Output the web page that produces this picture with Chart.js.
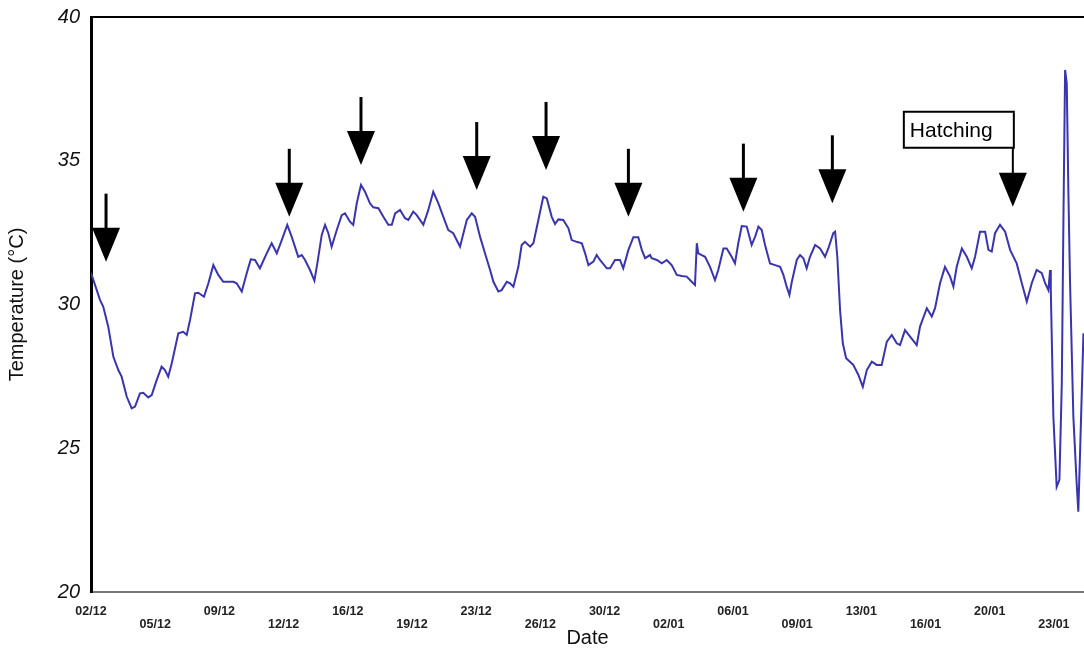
<!DOCTYPE html>
<html>
<head>
<meta charset="UTF-8">
<title>Temperature</title>
<script src="https://cdn.jsdelivr.net/npm/chart.js"></script>
<style>
  body { margin: 0; background: #fff; }
  #wrap { width: 1084px; height: 653px; position: relative; }
</style>
</head>
<body>
<div id="wrap"><canvas id="myChart"></canvas></div>
<script>
// days since 02/12 and temperature (°C)
var days = [
  0,0.49,0.67,0.94,1.22,1.49,1.67,1.95,2.22,2.40,2.67,2.85,3.12,3.31,3.58,3.85,4.03,4.21,4.40,4.76,
  5.03,5.22,5.40,5.67,5.85,6.16,6.40,6.67,6.94,7.21,7.76,7.94,8.22,8.49,8.71,8.94,9.21,9.58,9.85,10.13,
  10.40,10.70,10.94,11.30,11.49,11.67,11.94,12.18,12.34,12.58,12.76,12.94,13.12,13.40,13.67,13.85,14.12,14.30,14.49,14.72,
  14.94,15.21,15.39,15.67,15.94,16.21,16.40,16.58,16.85,17.12,17.30,17.57,17.76,18.12,18.39,18.66,18.94,19.21,19.48,19.75,
  20.12,20.49,20.76,20.94,21.21,21.48,21.76,21.94,22.21,22.39,22.67,22.85,23.03,23.30,23.48,23.66,23.94,24.12,24.39,24.66,
  24.85,25.12,25.30,25.48,25.75,26.03,26.21,26.48,26.76,26.94,27.12,27.39,27.57,27.75,28.12,28.30,28.57,28.84,29.02,29.30,
  29.57,29.84,30.03,30.21,30.48,30.57,30.85,31.12,31.39,31.66,31.94,32.21,32.48,32.75,32.93,33.03,33.11,33.30,33.48,33.75,
  34.02,34.20,34.48,34.66,34.93,35.11,35.29,35.48,35.75,36.02,36.21,36.39,36.57,36.75,37.02,37.30,37.57,37.75,37.93,38.08,
  38.21,38.48,38.66,38.84,39.02,39.20,39.48,39.75,40.02,40.20,40.47,40.57,40.69,40.84,40.99,41.17,41.48,
  41.56,41.84,42.08,42.30,42.57,42.84,43.11,43.39,43.66,43.93,44.11,44.38,44.66,45.02,45.20,45.57,45.84,46.02,46.29,46.56,
  46.84,47.02,47.20,47.48,47.75,48.02,48.20,48.47,48.75,48.93,49.11,49.29,49.56,49.84,50.11,50.47,50.75,51.02,51.29,51.56,
  51.84,52.02,52.20,52.29,52.33,52.47,52.65,52.80,52.93,53.02,53.11,53.20,53.29,53.38,53.56,53.74,53.83,53.93,54.11
];
var temps = [
  31.10,30.16,29.92,29.23,28.18,27.72,27.49,26.79,26.39,26.45,26.91,26.93,26.77,26.85,27.37,27.84,27.72,27.49,27.95,29.00,
  29.05,28.94,29.46,30.39,30.41,30.27,30.74,31.37,31.03,30.79,30.79,30.74,30.45,31.09,31.57,31.55,31.26,31.78,32.13,31.78,
  32.24,32.77,32.36,31.66,31.72,31.55,31.20,30.83,31.43,32.42,32.77,32.48,32.01,32.59,33.11,33.17,32.88,32.77,33.52,34.16,
  33.92,33.52,33.38,33.35,33.05,32.77,32.77,33.17,33.29,33.00,32.94,33.23,33.11,32.77,33.29,33.92,33.52,33.05,32.59,32.48,
  32.01,32.94,33.17,33.05,32.36,31.78,31.20,30.79,30.45,30.50,30.79,30.74,30.62,31.31,32.07,32.18,32.01,32.13,32.94,33.75,
  33.69,33.05,32.80,32.96,32.94,32.65,32.24,32.18,32.13,31.78,31.37,31.49,31.72,31.55,31.26,31.26,31.55,31.55,31.26,31.90,
  32.34,32.34,31.90,31.61,31.72,31.61,31.55,31.43,31.55,31.37,31.03,30.99,30.97,30.79,30.68,32.13,31.78,31.72,31.66,31.31,
  30.85,31.20,31.95,31.95,31.66,31.43,32.13,32.73,32.71,32.07,32.36,32.71,32.59,32.07,31.43,31.37,31.31,31.03,30.62,30.33,
  30.79,31.55,31.72,31.61,31.26,31.66,32.07,31.95,31.66,31.95,32.48,32.53,31.66,29.81,28.65,28.13,27.95,
  27.90,27.55,27.14,27.72,28.01,27.90,27.90,28.71,28.94,28.65,28.59,29.11,28.88,28.59,29.23,29.87,29.58,29.87,30.74,31.31,
  30.97,30.62,31.31,31.95,31.66,31.26,31.66,32.53,32.53,31.90,31.84,32.48,32.77,32.53,31.90,31.43,30.74,30.10,30.74,31.20,
  31.09,30.74,30.50,31.20,30.50,26.10,23.66,23.90,27.26,33.05,38.16,37.69,33.87,30.74,26.10,23.78,22.79,24.94,29.00
];

// x axis ticks (every 3.5 days) and their labels
var tickDays = [0,3.5,7,10.5,14,17.5,21,24.5,28,31.5,35,38.5,42,45.5,49,52.5];
var tickLabels = ['02/12','05/12','09/12','12/12','16/12','19/12','23/12','26/12',
                  '30/12','02/01','06/01','09/01','13/01','16/01','20/01','23/01'];

// arrow markers: tip position (day, temp) and optional label
var arrowDays = [0.82,10.81,14.72,21.03,24.81,29.30,35.57,40.42,50.26];
var arrowTemps = [31.49,33.05,34.85,33.98,34.68,33.05,33.23,33.52,33.40];
var arrowLabels = ['','','','','','','','','Hatching'];

var arrowPlugin = {
  id: 'arrows',
  afterDatasetsDraw: function(chart) {
    var ctx = chart.ctx, xs = chart.scales.x, ys = chart.scales.y;
    ctx.save();
    for (var i = 0; i < arrowDays.length; i++) {
      var x = xs.getPixelForValue(arrowDays[i]);
      var y = ys.getPixelForValue(arrowTemps[i]);
      var headH = 34, headW = 14;
      ctx.strokeStyle = '#000';
      ctx.fillStyle = '#000';
      if (arrowLabels[i]) {
        // labelled box above, shaft drops from its bottom-right corner
        ctx.font = '21px "Liberation Sans", Arial, sans-serif';
        var bw = 110, bh = 36;
        var bx = x - bw + 1, by = y - 95;
        ctx.lineWidth = 2;
        ctx.strokeRect(bx, by, bw, bh);
        ctx.textBaseline = 'middle';
        ctx.textAlign = 'left';
        ctx.fillText(arrowLabels[i], bx + 6, by + bh / 2 + 1);
        ctx.beginPath();
        ctx.moveTo(x, by + bh);
        ctx.lineTo(x, y - headH + 2);
        ctx.stroke();
      } else {
        ctx.lineWidth = 3;
        ctx.beginPath();
        ctx.moveTo(x, y - 68);
        ctx.lineTo(x, y - headH + 2);
        ctx.stroke();
      }
      ctx.beginPath();
      ctx.moveTo(x - headW, y - headH);
      ctx.lineTo(x + headW, y - headH);
      ctx.lineTo(x, y);
      ctx.closePath();
      ctx.fill();
    }
    ctx.restore();
  }
};

const ctx = document.getElementById('myChart');
new Chart(ctx, {
  type: 'line',
  data: {
    datasets: [{
      data: days.map(function(d, i) { return {x: d, y: temps[i]}; }),
      borderColor: '#3a34ad',
      borderWidth: 2,
      pointRadius: 0,
      tension: 0,
      fill: false
    }]
  },
  options: {
    responsive: true,
    maintainAspectRatio: false,
    animation: false,
    layout: { padding: { top: 17, right: 0, left: 0, bottom: 0 } },
    plugins: { legend: { display: false }, tooltip: { enabled: false } },
    scales: {
      x: {
        type: 'linear',
        min: 0,
        max: 54.14,
        afterBuildTicks: function(scale) {
          scale.ticks = tickDays.map(function(v) { return {value: v}; });
        },
        afterFit: function(scale) { scale.height = 61; },
        grid: { display: false, drawTicks: false },
        border: { display: true, color: '#777', width: 2, dash: [1, 3] },
        ticks: {
          autoSkip: false,
          maxRotation: 0,
          padding: 13,
          color: '#222',
          font: { family: '"Liberation Sans", Arial, sans-serif', size: 12.5, weight: 'bold', lineHeight: 1.05 },
          callback: function(value, index) {
            var lab = tickLabels[index];
            return index % 2 === 0 ? lab : ['', lab];
          }
        },
        title: {
          display: true,
          text: 'Date',
          color: '#111',
          font: { family: '"Liberation Sans", Arial, sans-serif', size: 20 },
          padding: { top: 0, bottom: 3 }
        }
      },
      y: {
        min: 20,
        max: 40,
        afterFit: function(scale) {
          scale.width = 91;
          scale.paddingTop = 0;
          scale.paddingBottom = 0;
        },
        grid: {
          drawTicks: false,
          lineWidth: 2,
          color: function(c) { return c.tick && c.tick.value === 40 ? '#000' : 'rgba(0,0,0,0)'; }
        },
        border: { display: true, color: '#000', width: 3 },
        ticks: {
          stepSize: 5,
          padding: 11,
          color: '#111',
          font: { family: '"Liberation Sans", Arial, sans-serif', size: 20, style: 'italic' }
        },
        title: {
          display: true,
          text: 'Temperature (°C)',
          color: '#111',
          font: { family: '"Liberation Sans", Arial, sans-serif', size: 20 },
          padding: { top: 5, bottom: 0 }
        }
      }
    }
  },
  plugins: [arrowPlugin]
});
</script>
</body>
</html>
